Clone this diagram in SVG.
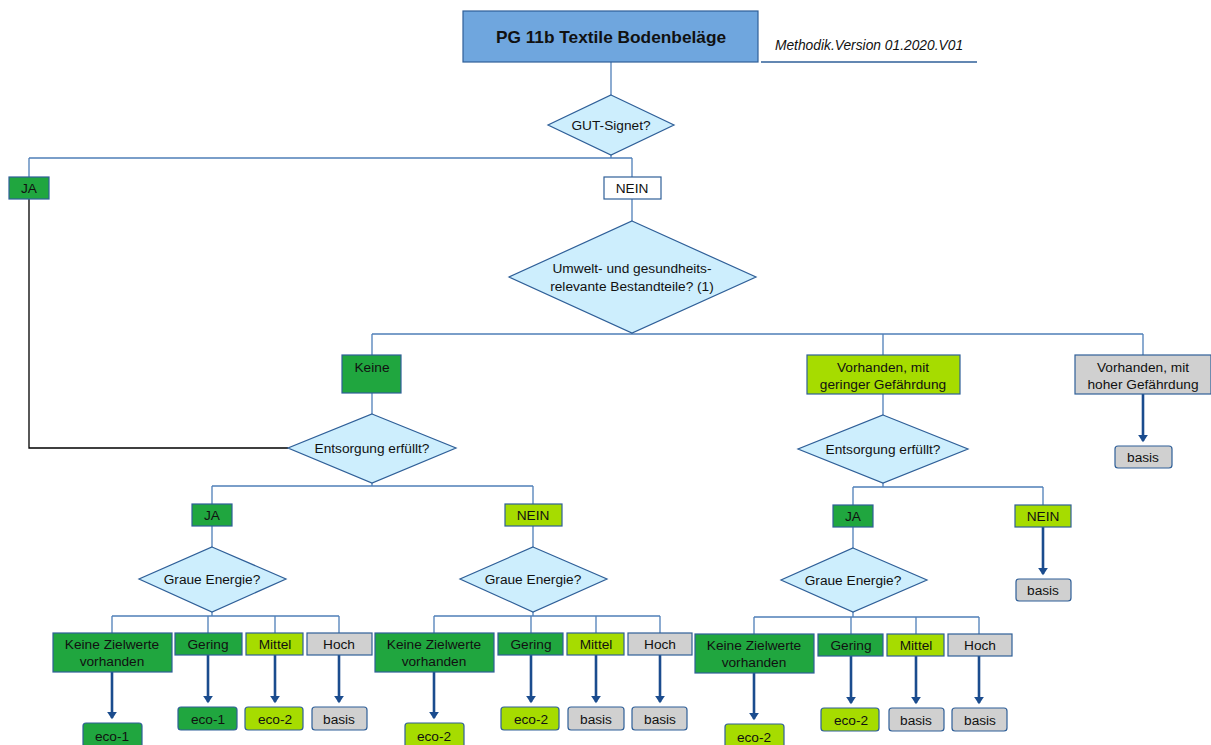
<svg xmlns="http://www.w3.org/2000/svg" width="1211" height="745" viewBox="0 0 1211 745">
<defs>
<style>
text{font-family:"Liberation Sans",Arial,sans-serif;font-size:13.7px;fill:#111;text-anchor:middle}
.dia{fill:#cdeefd;stroke:#2f5f98;stroke-width:1.2}
.dg{fill:#20a63f;stroke:#2f5f98;stroke-width:1.2}
.lg{fill:#a6dc00;stroke:#2f5f98;stroke-width:1.2}
.gr{fill:#d0d0d0;stroke:#2f5f98;stroke-width:1.2}
.wh{fill:#fff;stroke:#2f5f98;stroke-width:1.2}
.c{fill:none;stroke:#4f7fb8;stroke-width:1.3}
.k{fill:none;stroke:#000;stroke-width:1.3}
.a{fill:none;stroke:#1b4c8e;stroke-width:2.6;marker-end:url(#ah)}
</style>
<marker id="ah" markerWidth="4" markerHeight="4" refX="2.5" refY="2" orient="auto" markerUnits="strokeWidth">
<path d="M0,0 L3,2 L0,4 z" fill="#1b4c8e"/>
</marker>
</defs>
<rect width="1211" height="745" fill="#fff"/>

<g id="connectors">
<path class="c" d="M611,62 V95"/>
<path class="c" d="M611,155 V158 M29,158 H632 M29,158 V177 M632,158 V177"/>
<path class="c" d="M632,199 V221"/>
<path class="c" d="M632,333 V334 M372,334 H1143 M372,334 V355 M883,334 V355 M1143,334 V355"/>
<path class="c" d="M372,393 V414"/>
<path class="k" d="M29,199 V448 H288"/>
<path class="c" d="M372,483 V486 M212,486 H533 M212,486 V504 M533,486 V504"/>
<path class="c" d="M212,526 V547 M533,526 V547"/>
<path class="c" d="M212,612 V616 M112,616 H339 M112,616 V633 M208,616 V633 M275,616 V633 M339,616 V633"/>
<path class="c" d="M533,612 V616 M434,616 H660 M434,616 V633 M531,616 V633 M596,616 V633 M660,616 V633"/>
<path class="c" d="M883,394 V415"/>
<path class="c" d="M883,483 V487 M853,487 H1043 M853,487 V505 M1043,487 V505"/>
<path class="c" d="M853,527 V548"/>
<path class="c" d="M853,612 V617 M754,617 H979 M754,617 V634 M851,617 V634 M916,617 V634 M979,617 V634"/>
<path class="a" d="M112,672 V718"/>
<path class="a" d="M208,655 V702"/>
<path class="a" d="M275,655 V702"/>
<path class="a" d="M339,655 V702"/>
<path class="a" d="M434,672 V718"/>
<path class="a" d="M531,655 V702"/>
<path class="a" d="M596,655 V702"/>
<path class="a" d="M660,655 V702"/>
<path class="a" d="M754,673 V719"/>
<path class="a" d="M851,656 V703"/>
<path class="a" d="M916,656 V703"/>
<path class="a" d="M979,656 V703"/>
<path class="a" d="M1043,527 V574"/>
<path class="a" d="M1143,394 V441"/>
<path d="M761,62 H977" stroke="#2f5f98" stroke-width="1.3" fill="none"/>
</g>

<g id="title">
<rect x="463" y="11" width="295" height="51" fill="#6fa6de" stroke="#2f5f98" stroke-width="1.2"/>
<text x="611" y="43" style="font-size:17.3px;font-weight:bold">PG 11b Textile Bodenbeläge</text>
</g>
<g id="version"><text x="869" y="50" style="font-style:italic;font-size:13.8px">Methodik.Version 01.2020.V01</text></g>

<g id="gut"><polygon class="dia" points="611,95 674,125 611,155 548,125"/><text x="611" y="130">GUT-Signet?</text></g>
<g id="ja1"><rect class="dg" x="9" y="177" width="40" height="22"/><text x="29" y="193">JA</text></g>
<g id="nein1"><rect class="wh" x="604" y="177" width="57" height="22"/><text x="632" y="193">NEIN</text></g>
<g id="umwelt"><polygon class="dia" points="632,221 756,277 632,333 509,277"/><text x="632" y="273">Umwelt- und gesundheits-</text><text x="632" y="291">relevante Bestandteile? (1)</text></g>

<g id="keine"><rect class="dg" x="342" y="355" width="59" height="38"/><text x="372" y="372">Keine</text></g>
<g id="vgering"><rect class="lg" x="807" y="355" width="153" height="39"/><text x="883" y="372">Vorhanden, mit</text><text x="883" y="389">geringer Gefährdung</text></g>
<g id="vhoch"><rect class="gr" x="1075" y="355" width="136" height="39"/><text x="1143" y="372">Vorhanden, mit</text><text x="1143" y="389">hoher Gefährdung</text></g>
<g id="basis-hoch"><rect class="gr" x="1115" y="446" width="57" height="22" rx="3"/><text x="1143" y="462">basis</text></g>

<g id="ents1"><polygon class="dia" points="372,414 456,448 372,483 288,448"/><text x="372" y="453">Entsorgung erfüllt?</text></g>
<g id="ja2"><rect class="dg" x="192" y="504" width="40" height="22"/><text x="212" y="520">JA</text></g>
<g id="nein2"><rect class="lg" x="505" y="504" width="57" height="22"/><text x="533" y="520">NEIN</text></g>

<g id="ents2"><polygon class="dia" points="883,415 968,449 883,483 798,449"/><text x="883" y="454">Entsorgung erfüllt?</text></g>
<g id="ja3"><rect class="dg" x="833" y="505" width="40" height="22"/><text x="853" y="521">JA</text></g>
<g id="nein3"><rect class="lg" x="1015" y="505" width="56" height="22"/><text x="1043" y="521">NEIN</text></g>
<g id="basis-nein3"><rect class="gr" x="1016" y="579" width="55" height="22" rx="3"/><text x="1043" y="595">basis</text></g>

<g id="graue1"><polygon class="dia" points="212,547 286,579 212,612 139,579"/><text x="212" y="584">Graue Energie?</text></g>
<g id="graue2"><polygon class="dia" points="533,547 607,579 533,612 460,579"/><text x="533" y="584">Graue Energie?</text></g>
<g id="graue3"><polygon class="dia" points="853,548 927,580 853,612 781,580"/><text x="853" y="585">Graue Energie?</text></g>

<g id="g1-keine"><rect class="dg" x="53" y="633" width="119" height="39"/><text x="112" y="649">Keine Zielwerte</text><text x="112" y="666">vorhanden</text></g>
<g id="g1-gering"><rect class="dg" x="175" y="633" width="67" height="22"/><text x="208" y="649">Gering</text></g>
<g id="g1-mittel"><rect class="lg" x="246" y="633" width="57" height="22"/><text x="275" y="649">Mittel</text></g>
<g id="g1-hoch"><rect class="gr" x="307" y="633" width="65" height="22"/><text x="339" y="649">Hoch</text></g>
<g id="g1-r1"><rect class="dg" x="83" y="723" width="59" height="26" rx="3"/><text x="112" y="741">eco-1</text></g>
<g id="g1-r2"><rect class="dg" x="178" y="707" width="59" height="23" rx="3"/><text x="208" y="724">eco-1</text></g>
<g id="g1-r3"><rect class="lg" x="245" y="707" width="58" height="23" rx="3"/><text x="275" y="724">eco-2</text></g>
<g id="g1-r4"><rect class="gr" x="312" y="707" width="55" height="23" rx="3"/><text x="339" y="724">basis</text></g>

<g id="g2-keine"><rect class="dg" x="375" y="633" width="119" height="39"/><text x="434" y="649">Keine Zielwerte</text><text x="434" y="666">vorhanden</text></g>
<g id="g2-gering"><rect class="dg" x="498" y="633" width="65" height="22"/><text x="531" y="649">Gering</text></g>
<g id="g2-mittel"><rect class="lg" x="567" y="633" width="57" height="22"/><text x="596" y="649">Mittel</text></g>
<g id="g2-hoch"><rect class="gr" x="628" y="633" width="64" height="22"/><text x="660" y="649">Hoch</text></g>
<g id="g2-r1"><rect class="lg" x="405" y="723" width="59" height="26" rx="3"/><text x="434" y="741">eco-2</text></g>
<g id="g2-r2"><rect class="lg" x="501" y="707" width="58" height="23" rx="3"/><text x="531" y="724">eco-2</text></g>
<g id="g2-r3"><rect class="gr" x="568" y="707" width="56" height="23" rx="3"/><text x="596" y="724">basis</text></g>
<g id="g2-r4"><rect class="gr" x="632" y="707" width="55" height="23" rx="3"/><text x="660" y="724">basis</text></g>

<g id="g3-keine"><rect class="dg" x="695" y="634" width="119" height="39"/><text x="754" y="650">Keine Zielwerte</text><text x="754" y="667">vorhanden</text></g>
<g id="g3-gering"><rect class="dg" x="818" y="634" width="65" height="22"/><text x="851" y="650">Gering</text></g>
<g id="g3-mittel"><rect class="lg" x="887" y="634" width="57" height="22"/><text x="916" y="650">Mittel</text></g>
<g id="g3-hoch"><rect class="gr" x="948" y="634" width="64" height="22"/><text x="980" y="650">Hoch</text></g>
<g id="g3-r1"><rect class="lg" x="725" y="724" width="59" height="26" rx="3"/><text x="754" y="742">eco-2</text></g>
<g id="g3-r2"><rect class="lg" x="821" y="708" width="58" height="23" rx="3"/><text x="851" y="725">eco-2</text></g>
<g id="g3-r3"><rect class="gr" x="889" y="708" width="55" height="23" rx="3"/><text x="916" y="725">basis</text></g>
<g id="g3-r4"><rect class="gr" x="952" y="708" width="55" height="23" rx="3"/><text x="980" y="725">basis</text></g>
</svg>
